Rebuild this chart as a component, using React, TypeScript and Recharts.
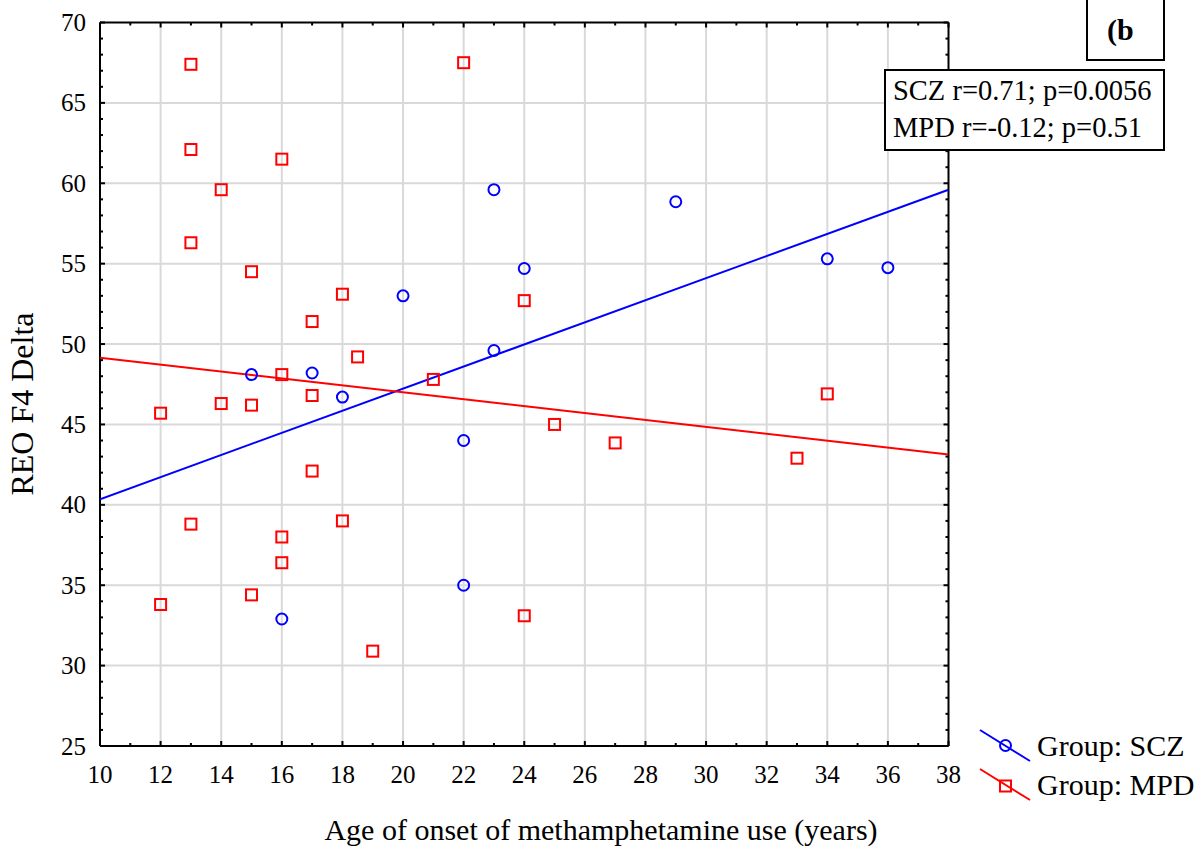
import React from 'react';
import { ScatterChart, Scatter, XAxis, YAxis, ReferenceLine } from 'recharts';

// axis ticks: every integer gets a tick mark, labels only on the majors
const ageTicks = [10, 11, 12, 13, 14, 15, 16, 17, 18, 19, 20, 21, 22, 23, 24, 25, 26, 27, 28, 29, 30, 31, 32, 33, 34, 35, 36, 37, 38];
const ageLabels = [10, 12, 14, 16, 18, 20, 22, 24, 26, 28, 30, 32, 34, 36, 38];
const deltaTicks = [25, 26, 27, 28, 29, 30, 31, 32, 33, 34, 35, 36, 37, 38, 39, 40, 41, 42, 43, 44, 45, 46, 47, 48, 49, 50, 51, 52, 53, 54, 55, 56, 57, 58, 59, 60, 61, 62, 63, 64, 65, 66, 67, 68, 69, 70];
const deltaLabels = [25, 30, 35, 40, 45, 50, 55, 60, 65, 70];

// SCZ group
const sczAge = [15, 16, 17, 18, 20, 22, 22, 23, 23, 24, 29, 34, 36];
const sczDelta = [48.1, 32.9, 48.2, 46.7, 53.0, 44.0, 35.0, 59.6, 49.6, 54.7, 58.85, 55.3, 54.75];

// MPD group
const mpdAge = [12, 12, 13, 13, 13, 13, 14, 14, 15, 15, 15, 16, 16, 16, 16, 17, 17, 17, 18, 18, 18.5, 19, 21, 22, 24, 24, 25, 27, 33, 34];
const mpdDelta = [45.7, 33.8, 67.4, 62.1, 56.3, 38.8, 59.6, 46.3, 54.5, 46.2, 34.4, 61.5, 48.1, 38.0, 36.4, 51.4, 46.8, 42.1, 53.1, 39.0, 49.2, 30.9, 47.8, 67.5, 52.7, 33.1, 45.0, 43.85, 42.9, 46.9];

// fitted lines, evaluated at the ends of the age axis
const fitAge = [10, 38];
const sczFit = [40.35, 59.6];
const mpdFit = [49.15, 43.13];

const statLines = ['SCZ r=0.71; p=0.0056', 'MPD r=-0.12; p=0.51'];
const groupNames = ['Group: SCZ', 'Group: MPD'];
const panelTag = '(b';

const BLUE = '#0000ff';
const RED = '#ff0000';
const GRID = '#d9d9d9';
const FONT = '"Liberation Serif", "Times New Roman", serif';

const sczData = sczAge.map((x, i) => ({ x, y: sczDelta[i] }));
const mpdData = mpdAge.map((x, i) => ({ x, y: mpdDelta[i] }));
const sczLine = fitAge.map((x, i) => ({ x, y: sczFit[i] }));
const mpdLine = fitAge.map((x, i) => ({ x, y: mpdFit[i] }));

const MAJOR = 5;
const MINOR = 3;

// force the serif face on every axis label, whatever the axis renders
const css = `
.plot-wrap text { font-family: ${FONT}; }
.plot-wrap .tick-label { font-size: 25px; fill: #000; }
`;

const BottomTick = (props: any) => {
  const { x, y, payload } = props;
  const major = ageLabels.includes(payload.value);
  return (
    <g>
      <line x1={x} x2={x} y1={y} y2={y - (major ? MAJOR : MINOR)} stroke="#000" strokeWidth={2} />
      {major && (
        <text className="tick-label" x={x} y={y + 37} textAnchor="middle" fontFamily="Liberation Serif" fontSize={25}>
          {payload.value}
        </text>
      )}
    </g>
  );
};

const TopTick = (props: any) => {
  const { x, y, payload } = props;
  const major = ageLabels.includes(payload.value);
  return <line x1={x} x2={x} y1={y} y2={y + (major ? MAJOR : MINOR)} stroke="#000" strokeWidth={2} />;
};

const LeftTick = (props: any) => {
  const { x, y, payload } = props;
  const major = deltaLabels.includes(payload.value);
  return (
    <g>
      <line x1={x} x2={x + (major ? MAJOR : MINOR)} y1={y} y2={y} stroke="#000" strokeWidth={2} />
      {major && (
        <text className="tick-label" x={x - 14} y={y} dy="0.34em" textAnchor="end" fontFamily="Liberation Serif" fontSize={25}>
          {payload.value}
        </text>
      )}
    </g>
  );
};

const RightTick = (props: any) => {
  const { x, y, payload } = props;
  const major = deltaLabels.includes(payload.value);
  return <line x1={x} x2={x - (major ? MAJOR : MINOR)} y1={y} y2={y} stroke="#000" strokeWidth={2} />;
};

const Ring = (props: any) => (
  <circle cx={props.cx} cy={props.cy} r={5.5} fill="none" stroke={BLUE} strokeWidth={2} />
);

const Box = (props: any) => (
  <rect x={props.cx - 5.5} y={props.cy - 5.5} width={11} height={11} fill="none" stroke={RED} strokeWidth={2} />
);

const NoDot = () => null;

export default function App() {
  const axisLine = { stroke: '#000', strokeWidth: 2 };
  return (
    <div
      className="plot-wrap"
      style={{ position: 'absolute', left: 0, top: 0, width: 1203, height: 850, background: '#fff', fontFamily: FONT }}
    >
      <style>{css}</style>
      <ScatterChart width={1203} height={850} margin={{ top: 21.5, right: 253.5, bottom: 0, left: 0 }}>
        <XAxis
          type="number"
          dataKey="x"
          domain={[10, 38]}
          ticks={ageTicks}
          interval={0}
          allowDataOverflow
          height={104}
          tickSize={0}
          tickMargin={0}
          axisLine={axisLine}
          tick={BottomTick}
        />
        <XAxis
          xAxisId="top"
          orientation="top"
          type="number"
          dataKey="x"
          domain={[10, 38]}
          ticks={ageTicks}
          interval={0}
          allowDataOverflow
          height={1}
          tickSize={0}
          tickMargin={0}
          axisLine={axisLine}
          tick={TopTick}
        />
        <YAxis
          type="number"
          dataKey="y"
          domain={[25, 70]}
          ticks={deltaTicks}
          interval={0}
          allowDataOverflow
          width={100}
          tickSize={0}
          tickMargin={0}
          axisLine={axisLine}
          tick={LeftTick}
        />
        <YAxis
          yAxisId="right"
          orientation="right"
          type="number"
          dataKey="y"
          domain={[25, 70]}
          ticks={deltaTicks}
          interval={0}
          allowDataOverflow
          width={1}
          tickSize={0}
          tickMargin={0}
          axisLine={axisLine}
          tick={RightTick}
        />
        {ageLabels.slice(1, -1).map((v) => (
          <ReferenceLine key={'gx' + v} x={v} stroke={GRID} strokeWidth={2} />
        ))}
        {deltaLabels.slice(1, -1).map((v) => (
          <ReferenceLine key={'gy' + v} y={v} stroke={GRID} strokeWidth={2} />
        ))}
        <Scatter data={sczLine} line={{ stroke: BLUE, strokeWidth: 2 }} shape={NoDot} isAnimationActive={false} />
        <Scatter data={mpdLine} line={{ stroke: RED, strokeWidth: 2 }} shape={NoDot} isAnimationActive={false} />
        <Scatter data={sczData} shape={Ring} isAnimationActive={false} />
        <Scatter data={mpdData} shape={Box} isAnimationActive={false} />
      </ScatterChart>

      <svg
        width={1203}
        height={850}
        style={{ position: 'absolute', left: 0, top: 0, pointerEvents: 'none', fontFamily: FONT }}
      >
        <text transform="translate(33,404) rotate(-90)" textAnchor="middle" fontSize={32} fill="#000">
          REO F4 Delta
        </text>
        <text x={601} y={840} textAnchor="middle" fontSize={30} fill="#000">
          Age of onset of methamphetamine use (years)
        </text>

        <rect x={1087} y={-2} width={77} height={62} fill="#fff" stroke="#000" strokeWidth={2} />
        <text x={1107} y={40} fontSize={30} fontWeight="bold" fill="#000">
          {panelTag}
        </text>

        <rect x={885} y={70} width={279} height={80} fill="#fff" stroke="#000" strokeWidth={2} />
        {statLines.map((s, i) => (
          <text key={s} x={893} y={100 + i * 36.5} fontSize={28.5} fill="#000">
            {s}
          </text>
        ))}

        <line x1={980} y1={730} x2={1030} y2={761} stroke={BLUE} strokeWidth={2} />
        <circle cx={1005.5} cy={745.5} r={5.5} fill="none" stroke={BLUE} strokeWidth={2} />
        <line x1={980} y1={769} x2={1030} y2={800} stroke={RED} strokeWidth={2} />
        <rect x={1000} y={780.5} width={11} height={11} fill="none" stroke={RED} strokeWidth={2} />
        {groupNames.map((g, i) => (
          <text key={g} x={1037} y={756 + i * 39} fontSize={30} fill="#000">
            {g}
          </text>
        ))}
      </svg>
    </div>
  );
}
